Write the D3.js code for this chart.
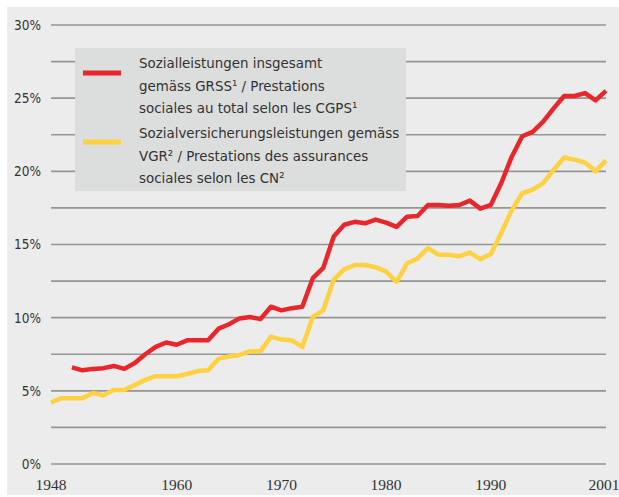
<!DOCTYPE html>
<html lang="de">
<head>
<meta charset="UTF-8" />
<title>Sozialleistungen</title>
<script src="https://cdn.jsdelivr.net/npm/d3@7"></script>
<style>
  body { margin: 0; background: #fff; }
  svg { display: block; }
  .lbl { font-family: "Liberation Sans Narrow", "DejaVu Sans", sans-serif; font-stretch: condensed; fill: #333; }
  .yr { font-family: "Liberation Serif", serif; fill: #333; }
</style>
</head>
<body>
<svg width="619" height="497"></svg>
<script>
// values (% of GDP)
const years = d3.range(1948, 2002);
const grss = [null, null, 6.6, 6.4, 6.5, 6.55, 6.7, 6.5, 6.9, 7.5,
  8.0, 8.3, 8.15, 8.45, 8.45, 8.45, 9.25, 9.55, 9.95, 10.05,
  9.9, 10.75, 10.5, 10.65, 10.75, 12.7, 13.4, 15.55, 16.35, 16.55,
  16.45, 16.7, 16.5, 16.2, 16.9, 16.95, 17.7, 17.7, 17.65, 17.7,
  18.0, 17.45, 17.7, 19.2, 21.0, 22.4, 22.7, 23.4, 24.3, 25.15,
  25.15, 25.35, 24.85, 25.5];
const vgr = [4.2, 4.5, 4.5, 4.5, 4.85, 4.7, 5.05, 5.05, 5.4, 5.75,
  6.0, 6.0, 6.0, 6.15, 6.35, 6.4, 7.2, 7.35, 7.45, 7.7,
  7.7, 8.7, 8.5, 8.45, 8.0, 10.05, 10.5, 12.6, 13.3, 13.6,
  13.6, 13.45, 13.15, 12.45, 13.7, 14.05, 14.75, 14.3, 14.3, 14.2,
  14.45, 14.0, 14.35, 15.8, 17.35, 18.5, 18.75, 19.2, 20.1, 20.95,
  20.8, 20.6, 20.0, 20.75];
const yearTicks = [1948, 1960, 1970, 1980, 1990, 2001];
const gridValues = d3.range(0, 30.01, 2.5);
const labelValues = [0, 5, 10, 15, 20, 25, 30];
const legendRed = ["Sozialleistungen insgesamt", "gemäss GRSS¹ / Prestations", "sociales au total selon les CGPS¹"];
const legendYellow = ["Sozialversicherungsleistungen gemäss", "VGR² / Prestations des assurances", "sociales selon les CN²"];

const RED = "#e8262b", YELLOW = "#fdd13f";

const svg = d3.select("svg");
svg.append("rect").attr("x", 7).attr("y", 7).attr("width", 612).attr("height", 488).attr("fill", "#ebeceb");

const x = d3.scaleLinear().domain([1948, 2001]).range([51, 606]);
const y = d3.scaleLinear().domain([0, 30]).range([464, 25]);

// grid
svg.append("g").selectAll("line").data(gridValues).enter().append("line")
  .attr("x1", x(1948)).attr("x2", x(2001))
  .attr("y1", d => y(d)).attr("y2", d => y(d))
  .attr("stroke", "#959595").attr("stroke-width", 1.6);

svg.append("g").selectAll("text").data(labelValues).enter().append("text")
  .attr("class", "lbl")
  .attr("x", 41).attr("y", d => y(d)).attr("dy", "0.36em")
  .attr("text-anchor", "end").style("font-size", "13.5px")
  .text(d => d + "%");

svg.append("g").selectAll("text").data(yearTicks).enter().append("text")
  .attr("class", "yr")
  .attr("x", d => d === 2001 ? x(d) - 2 : x(d)).attr("y", 490)
  .attr("text-anchor", "middle").style("font-size", "15.5px")
  .text(d => d);

// legend box (sits over the grid)
svg.append("rect").attr("x", 75).attr("y", 48).attr("width", 331).attr("height", 143).attr("fill", "#dcdddd");
svg.append("line").attr("x1", 83).attr("x2", 121).attr("y1", 73).attr("y2", 73).attr("stroke", RED).attr("stroke-width", 5);
svg.append("line").attr("x1", 83).attr("x2", 121).attr("y1", 142).attr("y2", 142).attr("stroke", YELLOW).attr("stroke-width", 5);
legendRed.forEach((t, i) => {
  svg.append("text").attr("class", "lbl").attr("x", 139).attr("y", 68 + i * 22.5).style("font-size", "14.9px").text(t);
});
legendYellow.forEach((t, i) => {
  svg.append("text").attr("class", "lbl").attr("x", 139).attr("y", 138 + i * 22.5).style("font-size", "14.9px").text(t);
});

// lines
const line = d3.line()
  .defined(d => d[1] != null)
  .x(d => x(d[0])).y(d => y(d[1]));

svg.append("path").datum(years.map((yr, i) => [yr, vgr[i]]))
  .attr("d", line).attr("fill", "none").attr("stroke", YELLOW)
  .attr("stroke-width", 4.5).attr("stroke-linejoin", "round");
svg.append("path").datum(years.map((yr, i) => [yr, grss[i]]))
  .attr("d", line).attr("fill", "none").attr("stroke", RED)
  .attr("stroke-width", 4.5).attr("stroke-linejoin", "round");
</script>
</body>
</html>
